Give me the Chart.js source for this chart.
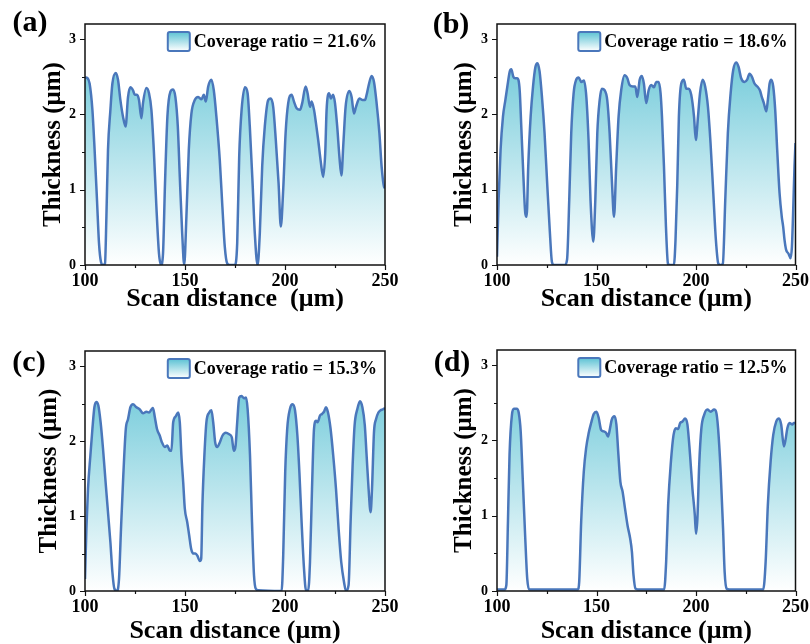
<!DOCTYPE html>
<html>
<head>
<meta charset="utf-8">
<script src="https://cdn.jsdelivr.net/npm/chart.js@4.4.0/dist/chart.umd.min.js"></script>
<style>
  html, body { margin: 0; padding: 0; background: #fff; }
  #grid { position: relative; width: 810px; height: 644px; }
  #grid canvas { position: absolute; }
</style>
</head>
<body>
<div id="grid">
  <canvas id="pa" width="405" height="322" style="left:0;top:0"></canvas>
  <canvas id="pb" width="405" height="322" style="left:405px;top:0"></canvas>
  <canvas id="pc" width="405" height="322" style="left:0;top:322px"></canvas>
  <canvas id="pd" width="405" height="322" style="left:405px;top:322px"></canvas>
</div>
<script>
// thickness profiles, [scan distance (µm), thickness (µm)]
const profileA = [
  [100,2.49],[101.3,2.48],[102.3,2.41],[103.7,2.06],[104.8,1.53],[106,0.86],[107,0.29],[108,0.04],[109,0],[110,0.02],
  [110.7,0.64],[111.5,1.53],[112.7,2.06],[113.7,2.41],[115.4,2.55],[116.5,2.46],[117.7,2.19],[119,1.97],[120.3,1.84],
  [121.5,2.23],[122.7,2.36],[124,2.32],[124.9,2.26],[126,2.26],[127,2.19],[128.2,1.95],[129,2.15],[130.7,2.35],[132,2.28],
  [133.2,2.06],[134.4,1.53],[135.7,0.77],[137,0.15],[138,0],[139,0.15],[140,1.08],[141.2,1.97],[142.7,2.3],[144,2.33],
  [145.2,2.23],[146.4,1.84],[147.4,1.17],[148.6,0.42],[149.6,0],[150.7,0.64],[151.9,1.53],[153.2,2.01],[154.9,2.19],
  [156.6,2.23],[158.2,2.2],[159.4,2.26],[160.4,2.17],[161.6,2.37],[163.2,2.46],[164.4,2.32],[165.7,1.97],[167.4,1.39],
  [168.7,0.77],[169.9,0.24],[171.1,0.02],[172.4,0],[174.9,0],[176.1,0.29],[177.1,1.44],[178.3,2.06],[180,2.36],[181.3,2.28],
  [182.4,1.84],[183.8,1.08],[184.9,0.42],[186.3,0],[187.4,0.42],[188.6,1.31],[189.9,1.84],[191.6,2.19],[192.8,2.21],
  [194.1,2.1],[195.4,1.66],[196.8,1.08],[197.9,0.51],[199.1,1.0],[200.3,1.75],[201.6,2.15],[203.3,2.26],[204.5,2.17],
  [205.8,2.08],[207.5,2.06],[208.6,2.15],[210.3,2.37],[211.3,2.28],[212.5,2.1],[213.3,2.17],[214.5,2.06],[215.5,1.88],
  [216.6,1.66],[217.8,1.39],[219.1,1.17],[220.1,1.48],[220.8,2.06],[222,2.28],[223,2.21],[224,2.26],[225,2.15],[226.1,1.84],
  [227.2,1.44],[228.2,1.19],[229.2,1.62],[230.3,2.1],[232.2,2.31],[233.3,2.23],[234.5,2.01],[235.5,2.1],[237.2,2.21],
  [238.8,2.19],[240,2.19],[240.8,2.26],[241.7,2.37],[243.3,2.51],[244.5,2.43],[245.8,2.15],[247.2,1.75],[248.3,1.31],
  [249.5,1.04],[250,1.02]
];
const profileB = [
  [100,0.11],[100.8,0.86],[101.8,1.53],[103,1.97],[104.2,2.19],[105.2,2.37],[106.4,2.57],[107.2,2.6],[108.2,2.5],
  [109.2,2.48],[110.2,2.48],[111.4,2.32],[112.2,1.84],[113.2,1.22],[114.2,0.69],[114.9,0.64],[115.7,1.31],[116.9,1.97],
  [118.1,2.37],[119.3,2.63],[120.3,2.68],[121.4,2.57],[122.6,2.23],[123.9,1.75],[125.3,1.04],[126.6,0.42],[127.6,0.04],
  [128.6,0],[134,0],[135.2,0.07],[136.3,0.86],[137.3,1.75],[138.5,2.28],[139.8,2.46],[141,2.49],[142.4,2.43],[143.7,2.45],
  [144.9,2.23],[146,1.66],[147,0.86],[148.4,0.31],[149.4,0.86],[150.4,1.75],[151.6,2.19],[152.7,2.34],[154.1,2.32],
  [155.4,2.19],[156.6,1.75],[157.8,1.08],[158.8,0.64],[159.9,1.31],[161.1,1.97],[162.4,2.32],[164.1,2.52],[165.5,2.48],
  [166.6,2.39],[168.3,2.37],[169.5,2.37],[170.5,2.23],[171.7,2.46],[172.8,2.51],[173.8,2.41],[175,2.15],[176.2,2.32],
  [177.5,2.39],[178.9,2.36],[180,2.43],[181.2,2.43],[182.2,2.28],[182.9,1.97],[183.9,1.31],[184.9,0.51],[185.9,0.02],
  [186.7,0],[188.9,0],[189.7,0.33],[190.6,1.08],[191.4,1.97],[192.6,2.41],[193.9,2.46],[195.1,2.34],[196.3,2.34],
  [197.6,2.26],[199,1.97],[199.9,1.66],[201,1.97],[202,2.28],[203.3,2.46],[204.6,2.37],[206,2.1],[207.3,1.62],[208.7,0.95],
  [210,0.33],[211.2,0.02],[212.3,0],[213.5,0.02],[214.7,0.86],[216,1.75],[217.4,2.28],[218.7,2.59],[220.2,2.69],
  [221.4,2.63],[222.7,2.48],[224.4,2.43],[225.7,2.46],[226.9,2.54],[228.1,2.5],[229.4,2.41],[230.8,2.37],[232.1,2.32],
  [233.1,2.23],[234.1,2.15],[235.3,2.04],[236.1,2.19],[237,2.41],[237.8,2.46],[238.8,2.37],[239.8,2.06],[240.8,1.53],
  [242,0.95],[243.1,0.64],[243.8,0.51],[244.5,0.33],[245.3,0.2],[246.5,0.15],[247.5,0.09],[248.2,0.24],[248.8,0.69],
  [249.5,1.31],[250,1.62]
];
const profileC = [
  [100,0.16],[100.7,0.83],[101.5,1.36],[102.7,1.81],[103.7,2.16],[104.7,2.45],[105.7,2.52],[106.7,2.47],[107.8,2.25],
  [109,1.9],[110.3,1.45],[111.5,1.05],[112.7,0.65],[113.7,0.25],[114.7,0.03],[116,0],[117,0.16],[118,0.83],[119,1.45],
  [120.4,2.16],[121.5,2.29],[122.7,2.45],[124,2.49],[125.7,2.45],[127.4,2.42],[129,2.37],[130.7,2.39],[132,2.38],
  [133.2,2.42],[134,2.44],[134.9,2.32],[136,2.16],[137.4,2.07],[138.5,1.98],[139.9,1.92],[141.2,1.94],[142.4,1.87],
  [143.2,1.87],[144.1,2.25],[145.4,2.33],[146.6,2.38],[147.4,2.25],[148.2,1.81],[149.1,1.45],[149.9,1.1],[151.1,0.92],
  [152.1,0.74],[153.1,0.56],[154.1,0.5],[155.2,0.5],[156.2,0.47],[157.4,0.4],[158.1,0.43],[158.7,1.14],[159.7,1.81],
  [160.7,2.25],[162.1,2.38],[163.2,2.41],[164.1,2.25],[165.1,1.98],[166.1,1.92],[167.4,1.98],[168.7,2.07],[170.4,2.11],
  [172.1,2.09],[173.4,2.05],[174.4,1.87],[175.3,1.94],[176.1,2.25],[177.1,2.58],[178.3,2.6],[179.5,2.57],[180.5,2.58],
  [181.3,2.43],[182.5,1.81],[183.5,0.92],[184.5,0.21],[185.4,0.03],[186.6,0.01],[198.3,0],[199.1,0.47],[200.1,1.58],
  [201.1,2.16],[202.5,2.43],[203.8,2.49],[205,2.41],[206.2,2.07],[207.2,1.58],[208.3,0.92],[209.5,0.3],[210.5,0.01],
  [211.6,0.01],[212.5,0.39],[213.5,1.36],[214.5,2.16],[215.5,2.27],[216.3,2.25],[217.5,2.34],[218.5,2.36],[219.5,2.39],
  [220.5,2.45],[221.5,2.38],[222.8,2.16],[224.1,1.81],[225.5,1.36],[226.8,0.83],[228.1,0.39],[229.5,0.12],[230.5,0],
  [231.8,0.08],[232.8,0.92],[233.8,1.67],[234.8,2.21],[236.2,2.43],[237.5,2.53],[238.7,2.45],[239.9,2.21],[240.8,1.81],
  [241.8,1.36],[242.8,1.05],[243.5,1.36],[244.5,2.12],[245.5,2.29],[246.7,2.38],[247.8,2.41],[248.8,2.42],[250,2.44]
];
const profileD = [
  [100,0.02],[103.8,0.02],[104.7,0.08],[105.5,0.92],[106.3,1.81],[107.5,2.34],[108.5,2.42],[109.9,2.42],[110.9,2.37],
  [111.9,2.12],[113,1.45],[114.2,0.7],[115.2,0.16],[116.2,0.02],[140.6,0.02],[141.3,0.12],[142.3,0.92],[143.6,1.58],
  [144.8,1.9],[146.1,2.1],[147.3,2.23],[148.6,2.35],[150,2.38],[151.1,2.3],[152.3,2.14],[153.6,2.12],[154.8,2.1],
  [155.8,2.05],[156.8,2.16],[157.6,2.27],[159,2.32],[160,2.21],[161,1.81],[162,1.45],[163.1,1.32],[164.3,1.1],[165.6,0.87],
  [166.9,0.7],[167.8,0.52],[168.6,0.21],[169.6,0.03],[170.7,0.02],[184,0.02],[185,0.39],[186,1.14],[187.4,1.72],
  [188.7,2.07],[189.9,2.16],[191,2.15],[192,2.23],[193.2,2.25],[194.5,2.29],[195.7,2.21],[197,1.81],[198.2,1.36],
  [199.4,1.01],[200,0.76],[200.7,0.96],[201.6,1.67],[202.7,2.16],[204.1,2.34],[205.7,2.41],[207.4,2.38],[209.1,2.41],
  [210.1,2.38],[211.1,2.16],[212.4,1.58],[213.6,0.83],[214.4,0.25],[215.4,0.03],[216.6,0.02],[233.8,0.02],[235,0.39],
  [236.1,1.14],[237.5,1.72],[238.8,2.07],[240.3,2.25],[241.7,2.29],[242.8,2.21],[244.2,1.92],[245,2.01],[245.9,2.16],
  [247,2.23],[248.4,2.21],[249.2,2.23],[250,2.23]
];

const panelTags = ['(a)', '(b)', '(c)', '(d)'];
const coverageRatios = ['21.6%', '18.6%', '15.3%', '12.5%'];
const xTitles = ['Scan distance  (μm)', 'Scan distance (μm)', 'Scan distance (μm)', 'Scan distance (μm)'];
const xTickValues = [100, 125, 150, 175, 200, 225, 250];
const yTickValues = [0, 0.5, 1, 1.5, 2, 2.5, 3];

const SERIF = "'Liberation Serif', 'Times New Roman', serif";
const LINE = '#4a77bb';
const FILL_TOP = 'rgb(92,194,212)';

// layout of each panel inside its canvas
const panels = [
  { id: 'pa', data: profileA, left: 85, top: 24, right: 20, bottom: 57, yPad: 41, xPad: 10, tag: [30, 23] },
  { id: 'pb', data: profileB, left: 92, top: 24, right: 14, bottom: 57, yPad: 47, xPad: 10, tag: [46, 25] },
  { id: 'pc', data: profileC, left: 85, top: 29, right: 20, bottom: 53, yPad: 37, xPad: 0, tag: [29, 41] },
  { id: 'pd', data: profileD, left: 92, top: 28, right: 13, bottom: 53, yPad: 47, xPad: 0, tag: [47, 41] }
];

function fillGradient(ctx, top, bottom) {
  const g = ctx.createLinearGradient(0, top, 0, bottom);
  g.addColorStop(0, FILL_TOP);
  g.addColorStop(1, 'rgb(255,255,255)');
  return g;
}

// frame, outward ticks (major + minor), panel tag and the legend entry
const decor = {
  id: 'decor',
  afterDraw(chart, args, opts) {
    const { ctx, chartArea: a, scales: { x, y } } = chart;
    ctx.save();
    ctx.strokeStyle = '#111';
    ctx.lineWidth = 1.5;
    ctx.strokeRect(a.left, a.top, a.right - a.left, a.bottom - a.top);

    ctx.lineWidth = 1.2;
    ctx.beginPath();
    xTickValues.forEach(v => {
      const px = Math.round(x.getPixelForValue(v)) + 0.5;
      const len = v % 50 === 0 ? 5 : 3;
      ctx.moveTo(px, a.bottom);
      ctx.lineTo(px, a.bottom + len);
    });
    yTickValues.forEach(v => {
      const py = Math.round(y.getPixelForValue(v)) + 0.5;
      const len = Number.isInteger(v) ? 5 : 3;
      ctx.moveTo(a.left, py);
      ctx.lineTo(a.left - len, py);
    });
    ctx.stroke();

    // panel tag
    ctx.fillStyle = '#000';
    ctx.font = `bold 30px ${SERIF}`;
    ctx.textAlign = 'center';
    ctx.textBaseline = 'middle';
    ctx.fillText(opts.tag, opts.tagX, opts.tagY);

    // legend entry in the top-right corner
    const label = 'Coverage ratio = ' + opts.ratio;
    ctx.font = `bold 18px ${SERIF}`;
    const tw = ctx.measureText(label).width;
    const tx = a.right - 8 - tw;
    const bw = 22, bh = 19;
    const bx = tx - 4 - bw, by = a.top + 8;
    ctx.fillStyle = fillGradient(ctx, by, by + bh);
    ctx.strokeStyle = LINE;
    ctx.lineWidth = 2;
    ctx.beginPath();
    ctx.roundRect(bx, by, bw, bh, 2);
    ctx.fill();
    ctx.stroke();
    ctx.fillStyle = '#000';
    ctx.textAlign = 'left';
    ctx.fillText(label, tx, by + bh / 2 + 1);
    ctx.restore();
  }
};

panels.forEach((p, i) => {
  new Chart(document.getElementById(p.id), {
    type: 'line',
    data: {
      datasets: [{
        data: p.data.map(([x, y]) => ({ x, y })),
        borderColor: LINE,
        borderWidth: 2.5,
        pointRadius: 0,
        cubicInterpolationMode: 'monotone',
        fill: 'origin',
        backgroundColor: c => {
          const area = c.chart.chartArea;
          if (!area) return 'rgba(0,0,0,0)';
          return fillGradient(c.chart.ctx, area.top, area.bottom);
        }
      }]
    },
    options: {
      responsive: false,
      animation: false,
      layout: { padding: { left: 0, top: p.top, right: p.right, bottom: 0 } },
      plugins: {
        legend: { display: false },
        tooltip: { enabled: false },
        decor: { tag: panelTags[i], tagX: p.tag[0], tagY: p.tag[1], ratio: coverageRatios[i] }
      },
      scales: {
        x: {
          type: 'linear',
          min: 100,
          max: 250,
          afterFit: s => { s.height = p.bottom; },
          grid: { display: false, tickLength: 5 },
          border: { display: false },
          ticks: {
            stepSize: 25,
            autoSkip: false,
            maxRotation: 0,
            padding: 1,
            color: '#000',
            font: { family: SERIF, size: 18, weight: 'bold' },
            callback: v => (v % 50 === 0 ? v : '')
          },
          title: {
            display: true,
            text: xTitles[i],
            color: '#000',
            font: { family: SERIF, size: 26, weight: 'bold', lineHeight: 1 },
            padding: { top: 0, bottom: p.xPad }
          }
        },
        y: {
          min: 0,
          max: 3.2,
          afterFit: s => { s.width = p.left; },
          grid: { display: false, tickLength: 5 },
          border: { display: false },
          ticks: {
            stepSize: 0.5,
            includeBounds: false,
            padding: 4,
            color: '#000',
            font: { family: SERIF, size: 14, weight: 'bold' },
            callback: v => (Number.isInteger(v) ? v : '')
          },
          title: {
            display: true,
            text: 'Thickness (μm)',
            color: '#000',
            font: { family: SERIF, size: 25, weight: 'bold', lineHeight: 1 },
            padding: { top: p.yPad, bottom: 0 }
          }
        }
      }
    },
    plugins: [decor]
  });
});
</script>
</body>
</html>
